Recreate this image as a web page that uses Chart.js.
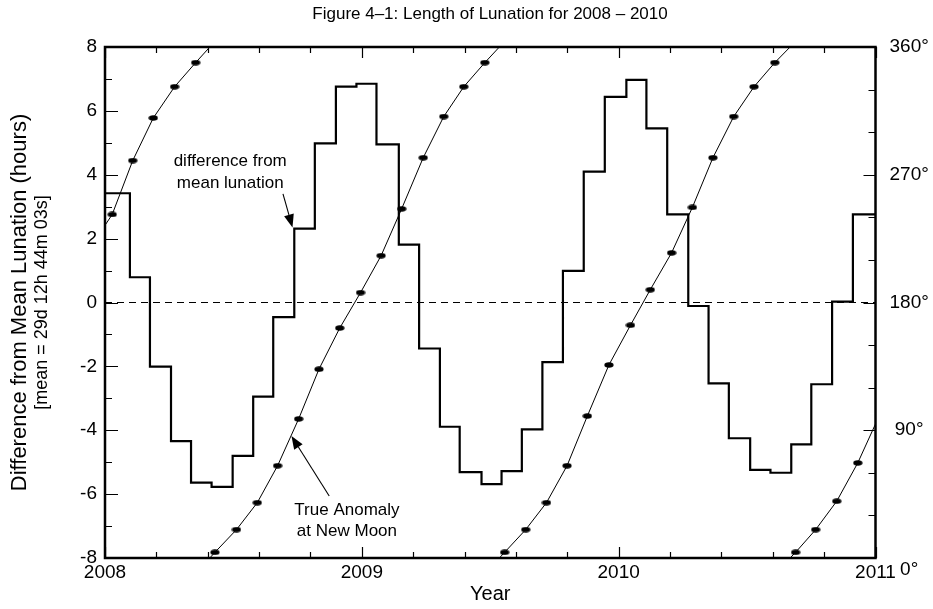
<!DOCTYPE html>
<html>
<head>
<meta charset="utf-8">
<script src="https://cdn.jsdelivr.net/npm/chart.js@4.4.1/dist/chart.umd.min.js"></script>
<style>
  html, body { margin: 0; padding: 0; background: #fff; }
  canvas { display: block; }
</style>
</head>
<body>
<canvas id="c" width="933" height="609"></canvas>
<script>
// ---------------- DATA ----------------
const chartTitle = 'Figure 4\u20131: Length of Lunation for 2008 \u2013 2010';
const xTitle = 'Year';
const yTitleLines = ['Difference from Mean Lunation (hours)', '[mean = 29d 12h 44m 03s]'];

const xTickLabels = ['2008', '2009', '2010', '2011'];
const yTickLabels = ['-8', '-6', '-4', '-2', '0', '2', '4', '6', '8'];
const y2TickLabels = [['', '0\u00b0'], '90\u00b0', '180\u00b0', '270\u00b0', '360\u00b0'];

// start of each plotted lunation step (decimal year)
const lunationStart = [
  2008.000, 2008.097, 2008.175, 2008.257, 2008.335, 2008.415, 2008.497, 2008.577,
  2008.655, 2008.737, 2008.817, 2008.899, 2008.979, 2009.057, 2009.144, 2009.223,
  2009.304, 2009.381, 2009.466, 2009.544, 2009.623, 2009.703, 2009.783, 2009.864,
  2009.946, 2010.030, 2010.108, 2010.189, 2010.271, 2010.350, 2010.429, 2010.512,
  2010.591, 2010.672, 2010.750, 2010.831, 2010.912
];
// difference from mean lunation (hours)
const lunationDiff = [
  3.42, 0.79, -2.01, -4.34, -5.64, -5.77, -4.80, -2.95,
  -0.46, 2.31, 4.98, 6.76, 6.85, 4.95, 1.81, -1.44,
  -3.89, -5.31, -5.69, -5.28, -3.97, -1.87, 0.99, 4.10,
  6.44, 6.97, 5.45, 2.76, -0.11, -2.53, -4.25, -5.24,
  -5.33, -4.44, -2.56, 0.03, 2.76
];

// new moons (decimal year) and true anomaly at new moon (degrees)
const newMoonDates = [
  2008.028, 2008.108, 2008.188, 2008.271, 2008.353, 2008.428, 2008.512, 2008.593,
  2008.672, 2008.754, 2008.833, 2008.914, 2008.995, 2009.075, 2009.155, 2009.239,
  2009.319, 2009.397, 2009.479, 2009.556, 2009.638, 2009.719, 2009.799, 2009.878,
  2009.962, 2010.046, 2010.123, 2010.206, 2010.287, 2010.367, 2010.448, 2010.527,
  2010.608, 2010.689, 2010.767, 2010.849, 2010.931
];
const trueAnomaly = [
  242, 280, 310, 332, 349, 4, 20, 39,
  65, 98, 133, 162, 187, 213, 246, 282,
  311, 332, 349, 4, 20, 39, 65, 100,
  136, 164, 189, 215, 247, 282, 311, 332,
  349, 4, 20, 40, 67
];
// new moons just outside the plotted years (curve runs off the frame)
const edgeMoonDates = [2007.940, 2011.009];
const edgeAnomaly = [218, 98];

const meanLevel = 0;

// ---------------- STYLE / LAYOUT ----------------
const FONT = "'Liberation Sans', Arial, Helvetica, sans-serif";
Chart.defaults.font.family = FONT;
Chart.defaults.color = '#000';

const X_MIN = 2008, X_MAX = 2011, X_MINOR = 0.2;
const Y_MIN = -8, Y_MAX = 8, Y_MINOR = 1, Y_MAJOR = 2;
const Y2_MIN = 0, Y2_MAX = 360, Y2_MINOR = 30, Y2_MAJOR = 90;

const annotations = [
  { lines: ['difference from', 'mean lunation'], x: 2008.4875, y: [4.27, 3.585],
    tail: [2008.693, 3.40], tip: [2008.730, 2.35] },
  { lines: ['True Anomaly', 'at New Moon'], x: 2008.942, y: [-6.65, -7.30],
    tail: [2008.873, -6.06], tip: [2008.726, -4.18] }
];

// ---------------- BUILD SERIES ----------------
const stepPoints = lunationStart.map((x, i) => ({ x: x, y: lunationDiff[i] }));
stepPoints.push({ x: X_MAX, y: lunationDiff[lunationDiff.length - 1] });

const dotPoints = newMoonDates.map((x, i) => ({ x: x, y: trueAnomaly[i] }));

const allMoons = [{ x: edgeMoonDates[0], y: edgeAnomaly[0] }]
  .concat(dotPoints)
  .concat([{ x: edgeMoonDates[1], y: edgeAnomaly[1] }]);
const curvePoints = [];
for (let i = 0; i < allMoons.length; i++) {
  const p = allMoons[i];
  curvePoints.push({ x: p.x, y: p.y });
  const n = allMoons[i + 1];
  if (n && n.y < p.y) { // wrap past 360 -> continue off the top, restart below 0
    curvePoints.push({ x: n.x, y: n.y + 360 });
    curvePoints.push({ x: n.x, y: null });
    curvePoints.push({ x: p.x, y: p.y - 360 });
  }
}

function ellipseDot() {
  const c = document.createElement('canvas');
  c.width = 10; c.height = 6;
  const g = c.getContext('2d');
  g.fillStyle = '#000';
  g.beginPath();
  g.ellipse(5, 3, 4.6, 2.7, 0, 0, Math.PI * 2);
  g.fill();
  return c;
}

// ---------------- PLUGIN: frame, inward ticks, texts ----------------
const decor = {
  id: 'decor',
  beforeDraw(chart) {
    const ctx = chart.ctx;
    ctx.save();
    ctx.fillStyle = '#fff';
    ctx.fillRect(0, 0, chart.width, chart.height);
    ctx.restore();
  },
  afterDatasetsDraw(chart) {
    const { ctx, chartArea: a, scales } = chart;
    const sx = scales.x, sy = scales.y, sy2 = scales.y2;
    ctx.save();
    ctx.strokeStyle = '#000';
    ctx.fillStyle = '#000';
    ctx.lineWidth = 1.2;
    ctx.beginPath();
    // x ticks (bottom and top)
    const nx = Math.round((X_MAX - X_MIN) / X_MINOR);
    for (let i = 0; i <= nx; i++) {
      const v = X_MIN + i * X_MINOR;
      const px = Math.round(sx.getPixelForValue(v)) + 0.5;
      const major = Math.abs(v - Math.round(v)) < 1e-6;
      const len = major ? 11 : 6;
      ctx.moveTo(px, a.bottom); ctx.lineTo(px, a.bottom - len);
      ctx.moveTo(px, a.top); ctx.lineTo(px, a.top + len);
    }
    // left ticks
    const ny = Math.round((Y_MAX - Y_MIN) / Y_MINOR);
    for (let i = 0; i <= ny; i++) {
      const v = Y_MIN + i * Y_MINOR;
      const py = Math.round(sy.getPixelForValue(v)) + 0.5;
      const len = (Math.abs(v % Y_MAJOR) < 1e-6) ? 13 : 7;
      ctx.moveTo(a.left, py); ctx.lineTo(a.left + len, py);
    }
    // right ticks
    const ny2 = Math.round((Y2_MAX - Y2_MIN) / Y2_MINOR);
    for (let i = 0; i <= ny2; i++) {
      const v = Y2_MIN + i * Y2_MINOR;
      const py = Math.round(sy2.getPixelForValue(v)) + 0.5;
      const len = (Math.abs(v % Y2_MAJOR) < 1e-6) ? 12 : 7;
      ctx.moveTo(a.right, py); ctx.lineTo(a.right - len, py);
    }
    ctx.stroke();

    // frame
    ctx.lineWidth = 2.5;
    ctx.strokeRect(a.left, a.top, a.right - a.left, a.bottom - a.top);

    // annotations
    ctx.font = '17px ' + FONT;
    ctx.textAlign = 'center';
    ctx.textBaseline = 'alphabetic';
    annotations.forEach(an => {
      const tx = sx.getPixelForValue(an.x);
      an.lines.forEach((t, k) => ctx.fillText(t, tx, sy.getPixelForValue(an.y[k])));
      const x0 = sx.getPixelForValue(an.tail[0]), y0 = sy.getPixelForValue(an.tail[1]);
      const x1 = sx.getPixelForValue(an.tip[0]), y1 = sy.getPixelForValue(an.tip[1]);
      const ang = Math.atan2(y1 - y0, x1 - x0);
      const hl = 13, hw = 5;
      const bx = x1 - hl * Math.cos(ang), by = y1 - hl * Math.sin(ang);
      ctx.lineWidth = 1.1;
      ctx.beginPath(); ctx.moveTo(x0, y0); ctx.lineTo(bx, by); ctx.stroke();
      ctx.beginPath();
      ctx.moveTo(x1, y1);
      ctx.lineTo(bx + hw * Math.sin(ang), by - hw * Math.cos(ang));
      ctx.lineTo(bx - hw * Math.sin(ang), by + hw * Math.cos(ang));
      ctx.closePath(); ctx.fill();
    });

    // y axis title (two lines, rotated)
    const cy = (a.top + a.bottom) / 2;
    ctx.textBaseline = 'middle';
    ctx.save();
    ctx.translate(20, cy); ctx.rotate(-Math.PI / 2);
    ctx.font = '22px ' + FONT;
    ctx.fillText(yTitleLines[0], 0, 0);
    ctx.restore();
    ctx.save();
    ctx.translate(42, cy); ctx.rotate(-Math.PI / 2);
    ctx.font = '18px ' + FONT;
    ctx.fillText(yTitleLines[1], 0, 0);
    ctx.restore();
    ctx.restore();
  }
};

// ---------------- CHART ----------------
new Chart(document.getElementById('c'), {
  type: 'scatter',
  data: {
    datasets: [
      { label: 'difference from mean lunation', data: stepPoints, yAxisID: 'y', showLine: true,
        stepped: 'before', borderColor: '#000', borderWidth: 2.2, pointRadius: 0 },
      { label: 'mean', data: [{ x: X_MIN, y: meanLevel }, { x: X_MAX, y: meanLevel }], yAxisID: 'y',
        showLine: true, borderColor: '#000', borderWidth: 1, borderDash: [7, 5], pointRadius: 0 },
      { label: 'true anomaly curve', data: curvePoints, yAxisID: 'y2', showLine: true, spanGaps: false,
        borderColor: '#000', borderWidth: 1, pointRadius: 0 },
      { label: 'true anomaly at new moon', data: dotPoints, yAxisID: 'y2', showLine: false,
        pointStyle: ellipseDot(), pointRadius: 5, pointBackgroundColor: '#000', pointBorderWidth: 0 }
    ]
  },
  options: {
    responsive: false,
    devicePixelRatio: 1,
    animation: false,
    events: [],
    layout: { padding: { left: 47, right: 0, top: 0, bottom: 0 } },
    plugins: {
      legend: { display: false },
      tooltip: { enabled: false },
      title: { display: true, text: chartTitle, color: '#000',
        font: { size: 17, weight: 'normal', family: FONT },
        padding: { top: 4, bottom: 22.6 } }
    },
    scales: {
      x: {
        type: 'linear', position: 'bottom', min: X_MIN, max: X_MAX,
        grid: { display: false, drawTicks: false, tickLength: 0 }, border: { display: false },
        ticks: { stepSize: 1, autoSkip: false, maxRotation: 0, padding: 3, color: '#000',
          font: { size: 19 }, callback: (v, i) => xTickLabels[i] },
        title: { display: true, text: xTitle, color: '#000', font: { size: 20 },
          padding: { top: 0, bottom: 3 } },
        afterFit: s => { s.height = 51; }
      },
      y: {
        type: 'linear', position: 'left', min: Y_MIN, max: Y_MAX,
        grid: { display: false, drawTicks: false, tickLength: 0 }, border: { display: false },
        ticks: { stepSize: Y_MAJOR, padding: 8, color: '#000', font: { size: 19 },
          callback: (v, i) => yTickLabels[i] },
        afterFit: s => { s.width = 58; }
      },
      y2: {
        type: 'linear', position: 'right', min: Y2_MIN, max: Y2_MAX,
        grid: { display: false, drawTicks: false, tickLength: 0 }, border: { display: false },
        ticks: { stepSize: Y2_MAJOR, padding: 14, crossAlign: 'center', color: '#000', font: { size: 19 },
          callback: (v, i) => y2TickLabels[i] },
        afterFit: s => { s.width = 57.5; }
      }
    }
  },
  plugins: [decor]
});
</script>
</body>
</html>
